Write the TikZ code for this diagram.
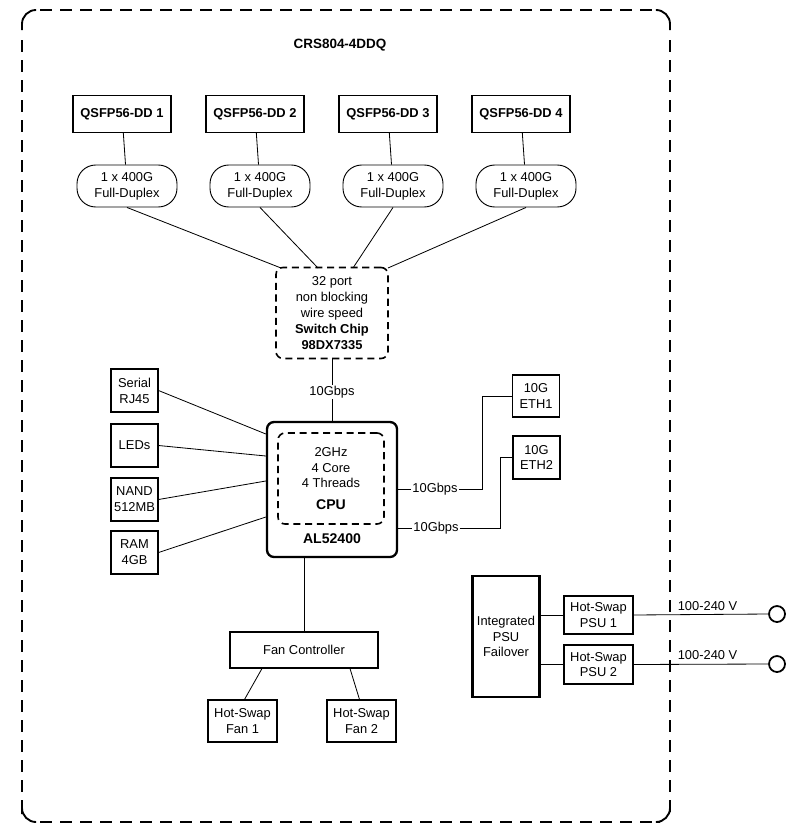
\documentclass[tikz,border=0pt]{standalone}
\usepackage{fontspec}
\setmainfont{Liberation Sans}
\usetikzlibrary{positioning,calc}

\tikzset{
	blk/.style={draw, line width=0.9pt, align=center, inner sep=0pt},
	oval/.style={draw, line width=0.8pt, rounded corners=16pt, align=center, inner sep=0pt, minimum width=3cm, minimum height=1.26cm},
	dashblk/.style={draw, line width=1.4pt, rounded corners=6pt, align=center, inner sep=0pt, dash pattern=on 6pt off 4pt},
	rim/.style={line width=1.6pt},
	lbl/.style={fill=white, inner sep=1pt},
	wire/.style={draw, line width=0.7pt}
}

\begin{document}
\begin{tikzpicture}[x=0.03cm, y=-0.03cm, font=\fontsize{11}{13.5}\selectfont]
	\useasboundingbox (0,0) rectangle (800,836);
	% frame, dash by dash
	\foreach \t in {40,60,...,640}{
		\draw[rim] (\t,10) -- (\t+12,10);
		\draw[rim] (\t,822) -- (\t+12,822);
	}
	\foreach \t in {40,60,...,800}{
		\draw[rim] (22,\t) -- (22,\t+12);
		\draw[rim] (670,\t) -- (670,\t+12);
	}
	\draw[rim] (22,30) -- (22,24) arc[start angle=180, end angle=90, x radius=14, y radius=-14] -- (34,10);
	\draw[rim] (658,10) -- (656,10) arc[start angle=90, end angle=0, x radius=14, y radius=-14] -- (670,30);
	\draw[rim] (670,812) -- (670,808) arc[start angle=0, end angle=-90, x radius=14, y radius=-14] -- (660,822);
	\draw[rim] (34,822) -- (36,822) arc[start angle=-90, end angle=-180, x radius=14, y radius=-14] -- (22,814);
	\node[font=\fontsize{11.5}{13}\selectfont\bfseries] (title) at (340,45) {CRS804-4DDQ};
	% ports
	\foreach \i/\x in {1/122,2/255,3/388,4/521}{
		\node[blk, line width=1.1pt, minimum width=2.94cm, minimum height=1.11cm, font=\fontsize{11}{13}\selectfont\bfseries] (q\i) at (\x,114) {QSFP56-DD \i};
		\node[oval] (o\i) at (\x+5,186) {1 x 400G\\Full-Duplex};
	}
	\node[dashblk, minimum width=3.36cm, minimum height=2.73cm] (sw) at (332,313) {32 port\\non blocking\\wire speed\\\textbf{Switch Chip}\\\textbf{98DX7335}};
	\coordinate (s1) at (281,268);
	\coordinate (s2) at (318,268);
	\coordinate (s3) at (353,268);
	\coordinate (s4) at (388,268);
	\foreach \i in {1,...,4}{
		\draw[wire] (q\i) -- (o\i);
		\draw[wire] (o\i.south) -- (s\i);
	}
	% cpu
	\node[draw, line width=2pt, rounded corners=6pt, minimum width=3.9cm, minimum height=4.05cm] (cpu) at (332,489.5) {};
	\node[dashblk, minimum width=3.18cm, minimum height=2.73cm] (core) at (331,478.5) {2GHz\\4 Core\\4 Threads\\[5pt]\textbf{\fontsize{12}{13}\selectfont CPU}};
	\node[font=\fontsize{12}{13}\selectfont\bfseries] (al) at (332,539) {AL52400};
	\node[lbl] (l0) at (332,392) {10Gbps};
	\draw[wire] (sw.south) -- (l0) -- (cpu.north);
	% left side
	\node[blk, minimum width=1.41cm, minimum height=1.29cm] (ser) at (134.5,390.5) {Serial\\RJ45};
	\node[blk, minimum width=1.41cm, minimum height=1.29cm] (led) at (134.5,445.5) {LEDs};
	\node[blk, minimum width=1.41cm, minimum height=1.29cm] (nand) at (134.5,499.5) {NAND\\512MB};
	\node[blk, minimum width=1.41cm, minimum height=1.29cm] (ram) at (134.5,552.5) {RAM\\4GB};
	\draw[wire] (ser.east) -- (cpu.west |- 0,434);
	\draw[wire] (led.east) -- (cpu.west |- 0,456);
	\draw[wire] (nand.east) -- (cpu.west |- 0,481);
	\draw[wire] (ram.east) -- (cpu.west |- 0,517);
	% right side
	\node[blk, minimum width=1.41cm, minimum height=1.26cm] (eth1) at (536,396) {10G\\ETH1};
	\node[blk, minimum width=1.41cm, minimum height=1.29cm] (eth2) at (536.5,457.5) {10G\\ETH2};
	\node[lbl] (l1) at (435,489) {10Gbps};
	\node[lbl] (l2) at (436,528) {10Gbps};
	\draw[wire] (cpu.east |- l1) -- (l1.west);
	\draw[wire] (l1.east) -- (482,489) |- (eth1.west);
	\draw[wire] (cpu.east |- l2) -- (l2.west);
	\draw[wire] (l2.east) -- (500,528) |- (eth2.west);
	% fans
	\node[blk, minimum width=4.44cm, minimum height=1.08cm] (fc) at (304,650) {Fan Controller};
	\node[blk, minimum width=2.07cm, minimum height=1.26cm] (f1) at (242.5,721) {Hot-Swap\\Fan 1};
	\node[blk, minimum width=2.07cm, minimum height=1.26cm] (f2) at (361.5,721) {Hot-Swap\\Fan 2};
	\draw[wire] (cpu.south -| fc.north) -- (fc.north);
	\draw[wire] ($(fc.south)+(-42,0)$) -- ($(f1.north)+(2,0)$);
	\draw[wire] ($(fc.south)+(46,0)$) -- ($(f2.north)+(-2,0)$);
	% power
	\node[draw, line width=2pt, align=center, minimum width=2.01cm, minimum height=3.63cm, inner sep=0pt] (psu) at (506,636.5) {Integrated\\PSU\\Failover};
	\node[blk, minimum width=2.07cm, minimum height=1.14cm] (p1) at (598.5,615) {Hot-Swap\\PSU 1};
	\node[blk, minimum width=2.07cm, minimum height=1.17cm] (p2) at (598.5,664.5) {Hot-Swap\\PSU 2};
	\node[draw, line width=1.5pt, circle, minimum size=0.48cm, inner sep=0pt] (c1) at (777,614) {};
	\node[draw, line width=1.5pt, circle, minimum size=0.48cm, inner sep=0pt] (c2) at (777,664) {};
	\draw[wire] (psu.east |- p1) -- (p1.west);
	\draw[wire] (psu.east |- p2) -- (p2.west);
	\draw[wire] (p1.east) -- node[above, pos=0.55] {100-240 V} (c1.west);
	\draw[wire] (p2.east) -- node[above, pos=0.55] {100-240 V} (c2.west);
\end{tikzpicture}
\end{document}
